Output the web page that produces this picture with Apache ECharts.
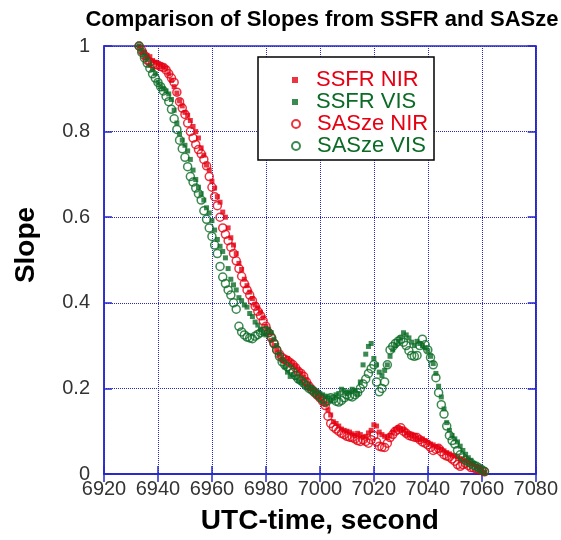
<!DOCTYPE html>
<html>
<head>
<meta charset="utf-8">
<script src="https://cdn.jsdelivr.net/npm/echarts@6/dist/echarts.min.js"></script>
<style>
html,body{margin:0;padding:0;background:#fff;}
#chart{width:561px;height:540px;}
</style>
</head>
<body>
<div id="chart"></div>
<script>
const xTicks = [6920, 6940, 6960, 6980, 7000, 7020, 7040, 7060, 7080];
const yTicks = [0, 0.2, 0.4, 0.6, 0.8, 1];
const seriesNames = ['SSFR NIR', 'SSFR VIS', 'SASze NIR', 'SASze VIS'];

const time = [
6933,6934,6935,6936,6937,6938,6939,6940,6941,6942,
6943,6944,6945,6946,6947,6948,6949,6950,6951,6952,
6953,6954,6955,6956,6957,6958,6959,6960,6961,6962,
6963,6964,6965,6966,6967,6968,6969,6970,6971,6972,
6973,6974,6975,6976,6977,6978,6979,6980,6981,6982,
6983,6984,6985,6986,6987,6988,6989,6990,6991,6992,
6993,6994,6995,6996,6997,6998,6999,7000,7001,7002,
7003,7004,7005,7006,7007,7008,7009,7010,7011,7012,
7013,7014,7015,7016,7017,7018,7019,7020,7021,7022,
7023,7024,7025,7026,7027,7028,7029,7030,7031,7032,
7033,7034,7035,7036,7037,7038,7039,7040,7041,7042,
7043,7044,7045,7046,7047,7048,7049,7050,7051,7052,
7053,7054,7055,7056,7057,7058,7059,7060,7061];

const ssfrNir = [
1.000,0.990,0.985,0.978,0.975,0.966,0.962,0.958,0.955,0.952,
0.948,0.935,0.920,0.905,0.890,0.872,0.860,0.845,0.838,0.826,
0.812,0.800,0.785,0.762,0.745,0.722,0.710,0.684,0.668,0.648,
0.635,0.612,0.600,0.575,0.552,0.535,0.515,0.492,0.478,0.455,
0.440,0.425,0.410,0.395,0.388,0.378,0.365,0.345,0.330,0.312,
0.300,0.290,0.280,0.268,0.262,0.270,0.262,0.255,0.250,0.242,
0.235,0.226,0.220,0.210,0.200,0.190,0.182,0.178,0.170,0.162,
0.150,0.138,0.122,0.118,0.112,0.105,0.102,0.100,0.098,0.094,
0.090,0.095,0.092,0.086,0.088,0.096,0.102,0.115,0.112,0.098,
0.092,0.088,0.085,0.090,0.098,0.104,0.108,0.106,0.102,0.096,
0.092,0.090,0.088,0.084,0.080,0.082,0.078,0.074,0.070,0.068,
0.064,0.062,0.058,0.054,0.050,0.047,0.044,0.042,0.040,0.036,
0.034,0.030,0.028,0.025,0.022,0.018,0.015,0.010,0.004];

const ssfrVis = [
1.000,0.985,0.975,0.968,0.955,0.945,0.935,0.915,0.905,0.900,
0.895,0.888,0.875,0.850,0.820,0.795,0.780,0.768,0.755,0.735,
0.710,0.688,0.670,0.655,0.640,0.622,0.610,0.592,0.570,0.548,
0.532,0.520,0.505,0.480,0.455,0.442,0.430,0.412,0.405,0.395,
0.390,0.375,0.368,0.355,0.348,0.338,0.330,0.325,0.338,0.330,
0.315,0.300,0.280,0.265,0.250,0.238,0.228,0.232,0.225,0.218,
0.215,0.210,0.205,0.200,0.198,0.195,0.192,0.188,0.185,0.182,
0.180,0.172,0.178,0.185,0.188,0.198,0.195,0.188,0.192,0.198,
0.195,0.188,0.215,0.255,0.280,0.298,0.305,0.270,0.255,0.238,
0.230,0.242,0.255,0.275,0.290,0.300,0.310,0.318,0.330,0.325,
0.318,0.308,0.300,0.310,0.305,0.300,0.295,0.288,0.275,0.258,
0.235,0.205,0.180,0.152,0.120,0.102,0.090,0.082,0.075,0.065,
0.055,0.046,0.038,0.032,0.025,0.018,0.010,0.006,0.003];

const sasNir = [
1.000,0.990,0.978,0.967,0.962,0.958,0.957,0.955,0.952,0.950,
0.944,0.935,0.925,0.915,0.892,0.870,0.855,0.840,0.820,0.800,
0.785,0.770,0.758,0.748,0.735,0.720,0.695,0.670,0.648,0.627,
0.600,0.575,0.560,0.545,0.530,0.515,0.498,0.480,0.462,0.445,
0.430,0.418,0.405,0.392,0.380,0.370,0.358,0.345,0.330,0.318,
0.305,0.290,0.280,0.272,0.268,0.265,0.260,0.255,0.248,0.240,
0.235,0.228,0.215,0.205,0.198,0.190,0.184,0.178,0.170,0.160,
0.135,0.118,0.110,0.105,0.100,0.095,0.092,0.088,0.086,0.085,
0.082,0.078,0.076,0.080,0.076,0.072,0.080,0.090,0.075,0.065,
0.063,0.062,0.072,0.085,0.092,0.100,0.104,0.108,0.100,0.095,
0.090,0.088,0.086,0.085,0.080,0.075,0.072,0.068,0.062,0.055,
0.058,0.060,0.052,0.045,0.042,0.040,0.035,0.030,0.022,0.018,
0.022,0.025,0.020,0.015,0.014,0.012,0.010,0.008,0.005];

const sasVis = [
1.000,0.985,0.972,0.960,0.948,0.935,0.925,0.915,0.905,0.895,
0.882,0.870,0.852,0.830,0.805,0.780,0.760,0.740,0.718,0.695,
0.682,0.668,0.655,0.640,0.615,0.595,0.575,0.555,0.535,0.515,
0.485,0.460,0.445,0.430,0.418,0.400,0.385,0.345,0.332,0.325,
0.320,0.318,0.316,0.322,0.326,0.330,0.333,0.335,0.330,0.320,
0.305,0.290,0.275,0.262,0.255,0.250,0.245,0.238,0.230,0.222,
0.218,0.212,0.206,0.200,0.196,0.192,0.186,0.180,0.174,0.168,
0.172,0.178,0.175,0.170,0.168,0.172,0.178,0.185,0.182,0.180,
0.185,0.190,0.200,0.210,0.222,0.235,0.246,0.255,0.215,0.192,
0.200,0.215,0.255,0.290,0.298,0.305,0.310,0.315,0.308,0.300,
0.288,0.277,0.275,0.277,0.300,0.315,0.302,0.290,0.272,0.255,
0.225,0.190,0.162,0.140,0.112,0.090,0.078,0.070,0.055,0.045,
0.038,0.032,0.028,0.025,0.020,0.018,0.014,0.010,0.006];

const RED = '#e60012';
const GREEN = '#0b6b26';
const BLUE = '#2828c8';
const FONT = 'Liberation Sans, Arial, sans-serif';

function zip(t, v) { return t.map((x, i) => [x, v[i]]); }

const chart = echarts.init(document.getElementById('chart'), null, {renderer: 'canvas'});

const axisCommon = {
  type: 'value',
  axisLine: {show: true, lineStyle: {color: BLUE, width: 1.5}},
  axisTick: {show: true, inside: true, length: 8, lineStyle: {color: BLUE, width: 1.5}}
};

const option = {
  animation: false,
  backgroundColor: '#fff',
  title: {
    text: 'Comparison of Slopes from SSFR and SASze',
    left: 317, top: 4, textAlign: 'center',
    textStyle: {fontFamily: FONT, fontWeight: 'bold', fontSize: 22, color: '#000'}
  },
  grid: {left: 104, top: 46, right: 22, bottom: 60, show: true, borderColor: BLUE, borderWidth: 1.5, backgroundColor: 'transparent'},
  xAxis: [
    Object.assign({}, axisCommon, {
      position: 'bottom', min: xTicks[0], max: xTicks[xTicks.length - 1], interval: 20,
      axisLabel: {show: true, margin: 5, fontFamily: FONT, fontSize: 20, color: '#333', showMinLabel: true, showMaxLabel: true,
        formatter: v => String(v)},
      splitLine: {show: true, lineStyle: {color: BLUE, type: 'dotted', width: 1}},
      name: 'UTC-time, second', nameLocation: 'middle', nameGap: 33,
      nameTextStyle: {fontFamily: FONT, fontWeight: 'bold', fontSize: 28, color: '#000'}
    }),
    Object.assign({}, axisCommon, {
      position: 'top', min: xTicks[0], max: xTicks[xTicks.length - 1], interval: 20,
      axisLabel: {show: false}, splitLine: {show: false}
    })
  ],
  yAxis: [
    Object.assign({}, axisCommon, {
      position: 'left', min: yTicks[0], max: yTicks[yTicks.length - 1], interval: 0.2,
      axisLabel: {show: true, margin: 14, fontFamily: FONT, fontSize: 20, color: '#333', showMinLabel: true, showMaxLabel: true,
        formatter: v => String(v)},
      splitLine: {show: true, lineStyle: {color: BLUE, type: 'dotted', width: 1}}
    }),
    Object.assign({}, axisCommon, {
      position: 'right', min: yTicks[0], max: yTicks[yTicks.length - 1], interval: 0.2,
      axisLabel: {show: false}, splitLine: {show: false}
    })
  ],
  legend: [
    {
      orient: 'vertical', left: 287, top: 64, itemGap: 0,
      itemWidth: 6, itemHeight: 6,
      textStyle: {fontFamily: FONT, fontSize: 22, lineHeight: 22, padding: [0, 0, 0, 13]},
      data: [
        {name: seriesNames[0], textStyle: {color: RED}},
        {name: seriesNames[1], textStyle: {color: GREEN}}
      ],
      z: 5
    },
    {
      orient: 'vertical', left: 286, top: 108, itemGap: 0,
      itemWidth: 8, itemHeight: 8,
      textStyle: {fontFamily: FONT, fontSize: 22, lineHeight: 22, padding: [0, 0, 0, 12]},
      data: [
        {name: seriesNames[2], textStyle: {color: RED}},
        {name: seriesNames[3], textStyle: {color: GREEN}}
      ],
      z: 5
    }
  ],
  graphic: [
    {type: 'rect', z: 4, shape: {x: 258, y: 57, width: 176, height: 103},
     style: {fill: '#fff', stroke: '#000', lineWidth: 1.5}},
    {type: 'text', z: 4, x: 26, y: 245, rotation: Math.PI / 2,
     style: {text: 'Slope', fontFamily: FONT, fontWeight: 'bold', fontSize: 28, fill: '#000', align: 'center', verticalAlign: 'middle'}}
  ],
  series: [
    {name: seriesNames[0], type: 'scatter', data: zip(time, ssfrNir), symbol: 'rect', symbolSize: 5,
     itemStyle: {color: RED}},
    {name: seriesNames[1], type: 'scatter', data: zip(time, ssfrVis), symbol: 'rect', symbolSize: 5,
     itemStyle: {color: GREEN}},
    {name: seriesNames[2], type: 'scatter', data: zip(time, sasNir), symbol: 'circle', symbolSize: 8,
     itemStyle: {color: 'rgba(255,255,255,0)', borderColor: RED, borderWidth: 1.5}},
    {name: seriesNames[3], type: 'scatter', data: zip(time, sasVis), symbol: 'circle', symbolSize: 8,
     itemStyle: {color: 'rgba(255,255,255,0)', borderColor: GREEN, borderWidth: 1.5}}
  ]
};

chart.setOption(option);
</script>
</body>
</html>
